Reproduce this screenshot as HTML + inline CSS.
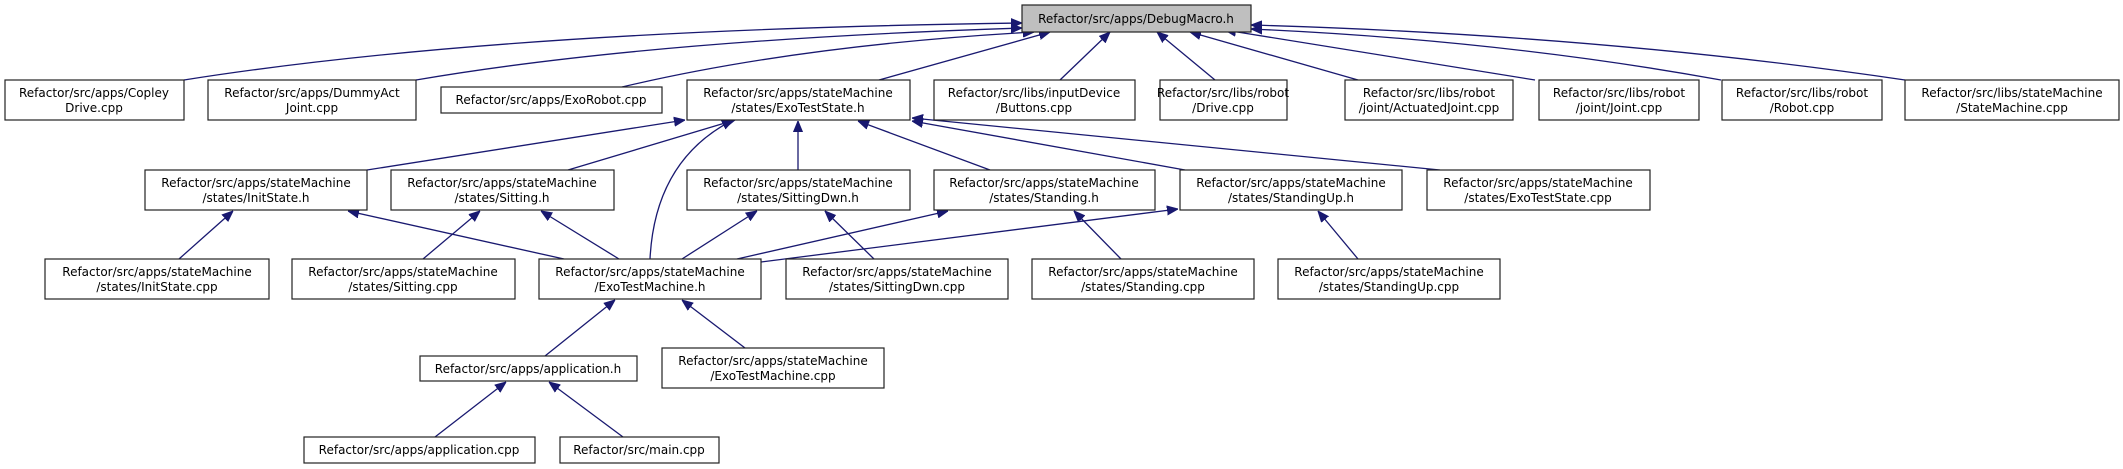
<!DOCTYPE html>
<html><head><meta charset="utf-8"><style>
html,body{margin:0;padding:0;background:#fff;}
svg{display:block;}
text{font-family:"DejaVu Sans","Liberation Sans",sans-serif;font-size:12px;fill:#000;}
</style></head><body>
<svg width="2123" height="469" viewBox="0 0 2123 469" xmlns="http://www.w3.org/2000/svg">
<defs>
<marker id="a" viewBox="0 0 11 10" refX="11" refY="5" markerWidth="11" markerHeight="10" markerUnits="userSpaceOnUse" orient="auto">
<path d="M0,0.5 L11,5 L0,9.5 z" fill="#191970" stroke="#191970"/>
</marker>
</defs>
<g fill="none" stroke="#191970" stroke-width="1.3" marker-end="url(#a)">
<path d="M184,80 Q500,30 1022,23"/>
<path d="M416,80 Q650,40 1022,28"/>
<path d="M622,87 Q800,45 1034,32"/>
<path d="M879,80 L1050,32"/>
<path d="M1060,80 L1110,32"/>
<path d="M1215,80 L1157,32"/>
<path d="M1358,80 L1190,32"/>
<path d="M1535,80 L1225,30"/>
<path d="M1721,80 Q1500,40 1251,29"/>
<path d="M1905,80 Q1600,35 1251,25"/>
<path d="M367,170 L685,120"/>
<path d="M568,170 L735,120"/>
<path d="M650,259 Q655,160 733,120"/>
<path d="M798,170 L798,121"/>
<path d="M990,170 L858,121"/>
<path d="M1185,170 L912,121"/>
<path d="M1440,170 L912,118"/>
<path d="M179,259 L233,211"/>
<path d="M564,259 L348,211"/>
<path d="M423,259 L480,211"/>
<path d="M619,259 L541,211"/>
<path d="M682,259 L757,211"/>
<path d="M874,259 L825,211"/>
<path d="M737,259 L948,211"/>
<path d="M1121,259 L1074,211"/>
<path d="M761,262 L1178,209"/>
<path d="M1358,259 L1318,211"/>
<path d="M545,356 L615,300"/>
<path d="M745,348 L682,300"/>
<path d="M435,437 L506,382"/>
<path d="M623,437 L549,382"/>
</g>
<g stroke="#222" stroke-width="1.2" fill="#fff">
<rect x="1022" y="5" width="229" height="27" fill="#bfbfbf"/>
<rect x="5" y="80" width="179" height="40"/>
<rect x="208" y="80" width="208" height="40"/>
<rect x="441" y="87" width="221" height="26"/>
<rect x="687" y="80" width="223" height="40"/>
<rect x="934" y="80" width="201" height="40"/>
<rect x="1160" y="80" width="127" height="40"/>
<rect x="1345" y="80" width="168" height="40"/>
<rect x="1539" y="80" width="160" height="40"/>
<rect x="1722" y="80" width="160" height="40"/>
<rect x="1905" y="80" width="214" height="40"/>
<rect x="145" y="170" width="222" height="40"/>
<rect x="391" y="170" width="223" height="40"/>
<rect x="687" y="170" width="223" height="40"/>
<rect x="934" y="170" width="221" height="40"/>
<rect x="1180" y="170" width="222" height="40"/>
<rect x="1427" y="170" width="223" height="40"/>
<rect x="45" y="259" width="224" height="40"/>
<rect x="292" y="259" width="223" height="40"/>
<rect x="539" y="259" width="222" height="40"/>
<rect x="786" y="259" width="222" height="40"/>
<rect x="1032" y="259" width="222" height="40"/>
<rect x="1278" y="259" width="222" height="40"/>
<rect x="420" y="356" width="217" height="25"/>
<rect x="662" y="348" width="222" height="40"/>
<rect x="304" y="437" width="231" height="26"/>
<rect x="560" y="437" width="159" height="26"/>
</g>
<g text-anchor="middle">
<text x="1136" y="23">Refactor/src/apps/DebugMacro.h</text>
<text x="94" y="97">Refactor/src/apps/Copley</text><text x="94" y="112">Drive.cpp</text>
<text x="312" y="97">Refactor/src/apps/DummyAct</text><text x="312" y="112">Joint.cpp</text>
<text x="551" y="104">Refactor/src/apps/ExoRobot.cpp</text>
<text x="798" y="97">Refactor/src/apps/stateMachine</text><text x="798" y="112">/states/ExoTestState.h</text>
<text x="1034" y="97">Refactor/src/libs/inputDevice</text><text x="1034" y="112">/Buttons.cpp</text>
<text x="1223" y="97">Refactor/src/libs/robot</text><text x="1223" y="112">/Drive.cpp</text>
<text x="1429" y="97">Refactor/src/libs/robot</text><text x="1429" y="112">/joint/ActuatedJoint.cpp</text>
<text x="1619" y="97">Refactor/src/libs/robot</text><text x="1619" y="112">/joint/Joint.cpp</text>
<text x="1802" y="97">Refactor/src/libs/robot</text><text x="1802" y="112">/Robot.cpp</text>
<text x="2012" y="97">Refactor/src/libs/stateMachine</text><text x="2012" y="112">/StateMachine.cpp</text>
<text x="256" y="187">Refactor/src/apps/stateMachine</text><text x="256" y="202">/states/InitState.h</text>
<text x="502" y="187">Refactor/src/apps/stateMachine</text><text x="502" y="202">/states/Sitting.h</text>
<text x="798" y="187">Refactor/src/apps/stateMachine</text><text x="798" y="202">/states/SittingDwn.h</text>
<text x="1044" y="187">Refactor/src/apps/stateMachine</text><text x="1044" y="202">/states/Standing.h</text>
<text x="1291" y="187">Refactor/src/apps/stateMachine</text><text x="1291" y="202">/states/StandingUp.h</text>
<text x="1538" y="187">Refactor/src/apps/stateMachine</text><text x="1538" y="202">/states/ExoTestState.cpp</text>
<text x="157" y="276">Refactor/src/apps/stateMachine</text><text x="157" y="291">/states/InitState.cpp</text>
<text x="403" y="276">Refactor/src/apps/stateMachine</text><text x="403" y="291">/states/Sitting.cpp</text>
<text x="650" y="276">Refactor/src/apps/stateMachine</text><text x="650" y="291">/ExoTestMachine.h</text>
<text x="897" y="276">Refactor/src/apps/stateMachine</text><text x="897" y="291">/states/SittingDwn.cpp</text>
<text x="1143" y="276">Refactor/src/apps/stateMachine</text><text x="1143" y="291">/states/Standing.cpp</text>
<text x="1389" y="276">Refactor/src/apps/stateMachine</text><text x="1389" y="291">/states/StandingUp.cpp</text>
<text x="528" y="373">Refactor/src/apps/application.h</text>
<text x="773" y="365">Refactor/src/apps/stateMachine</text><text x="773" y="380">/ExoTestMachine.cpp</text>
<text x="419" y="454">Refactor/src/apps/application.cpp</text>
<text x="639" y="454">Refactor/src/main.cpp</text>
</g>
</svg>
</body></html>
